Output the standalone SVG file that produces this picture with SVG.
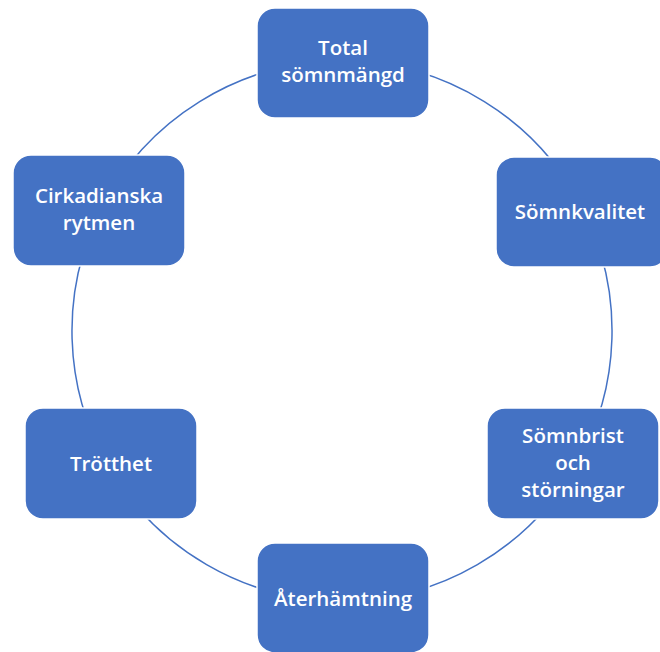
<svg xmlns="http://www.w3.org/2000/svg" width="660" height="652" viewBox="0 0 660 652">
<style>
.box{fill:#4472C4;stroke:#ffffff;stroke-width:1.5}
.lbl{fill:#ffffff;font-family:"Open Sans","Liberation Sans",sans-serif;font-weight:600;font-size:20.5px;text-anchor:middle}
.arc{fill:none;stroke:#4472C4;stroke-width:1.5}
</style>
<rect width="660" height="652" fill="#ffffff"/>
<g id="connectors">
<path class="arc" d="M342,61 A270,270 0 0 1 583.9,211"/>
<path class="arc" d="M583.9,211 A270,270 0 0 1 576.3,465.2"/>
<path class="arc" d="M576.3,465.2 A270,270 0 0 1 342,601"/>
<path class="arc" d="M342,601 A270,270 0 0 1 107.7,465.2"/>
<path class="arc" d="M107.7,465.2 A270,270 0 0 1 100.1,211"/>
<path class="arc" d="M100.1,211 A270,270 0 0 1 342,61"/>
</g>
<g id="total">
<rect class="box" x="257" y="8" width="172" height="110" rx="18"/>
<text class="lbl" x="343" y="55">Total</text>
<text class="lbl" x="343" y="82">sömnmängd</text>
</g>
<g id="somnkvalitet">
<rect class="box" x="496" y="157" width="172" height="110" rx="18"/>
<text class="lbl" x="580" y="219">Sömnkvalitet</text>
</g>
<g id="somnbrist">
<rect class="box" x="487" y="408" width="172" height="111" rx="18"/>
<text class="lbl" x="573" y="443">Sömnbrist</text>
<text class="lbl" x="573" y="470">och</text>
<text class="lbl" x="573" y="497">störningar</text>
</g>
<g id="aterhamtning">
<rect class="box" x="257" y="543" width="172" height="110" rx="18"/>
<text class="lbl" x="343" y="606">Återhämtning</text>
</g>
<g id="trotthet">
<rect class="box" x="25" y="408" width="172" height="111" rx="18"/>
<text class="lbl" x="111" y="471">Trötthet</text>
</g>
<g id="cirkadianska">
<rect class="box" x="13" y="155" width="172" height="111" rx="18"/>
<text class="lbl" x="99" y="203">Cirkadianska</text>
<text class="lbl" x="99" y="230">rytmen</text>
</g>
</svg>
